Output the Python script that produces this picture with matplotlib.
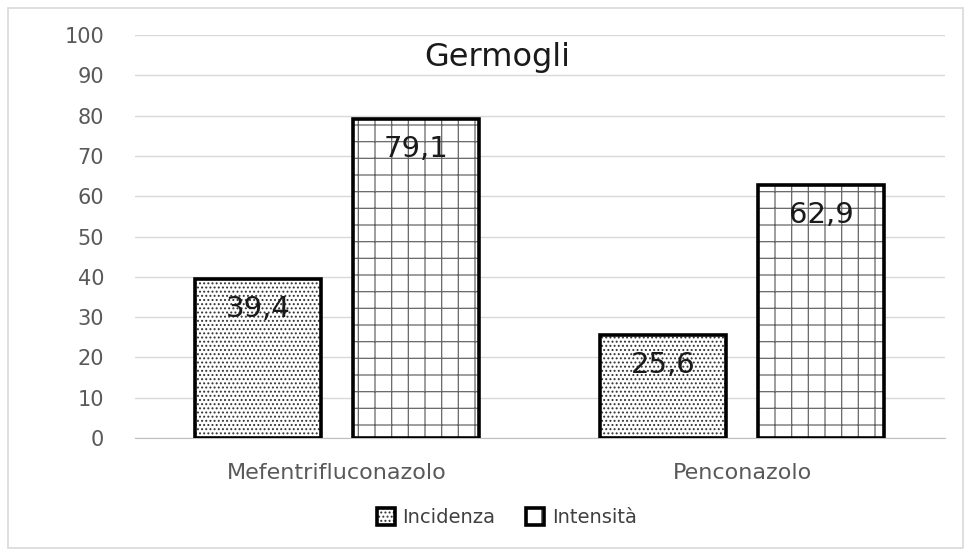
import numpy as np
import matplotlib.pyplot as plt
from matplotlib.patches import Rectangle

categories = ['Mefentrifluconazolo', 'Penconazolo']
incidenza = [39.4, 25.6]
intensita = [79.1, 62.9]
series_names = ['Incidenza', 'Intensità']

plt.rcParams['font.family'] = ['DejaVu Sans']
plt.rcParams['hatch.linewidth'] = 0.9

fig = plt.figure(figsize=(9.69, 5.52), dpi=100)
fig.patches.append(Rectangle((8 / 969, 4 / 552), 955 / 969, 540 / 552,
                             transform=fig.transFigure, fill=False,
                             edgecolor='#d9d9d9', linewidth=1.2))
ax = fig.add_axes([0.139, 0.2065, 0.836, 0.730])

x = np.arange(len(categories))
w = 0.31
off = 0.195

# hatch fill (grey-ish so it reads like dotted patterns), then black outline on top
h1 = ax.bar(x - off, incidenza, w, color='white', edgecolor='#333333',
            linewidth=0, hatch='....', zorder=3)
h2 = ax.bar(x + off, intensita, w, color='white', edgecolor='#666666',
            linewidth=0, hatch='+', zorder=3)
o1 = ax.bar(x - off, incidenza, w, fill=False, edgecolor='black',
            linewidth=2.6, zorder=4)
o2 = ax.bar(x + off, intensita, w, fill=False, edgecolor='black',
            linewidth=2.6, zorder=4)

for bars in (o1, o2):
    for r in bars:
        v = r.get_height()
        ax.text(r.get_x() + r.get_width() / 2, v - 7.5, f'{v:.1f}'.replace('.', ','),
                ha='center', va='center', fontsize=21, color='#1a1a1a', zorder=5)

ax.set_xlim(-0.5, 1.5)
ax.set_ylim(0, 100)
ax.set_yticks(range(0, 101, 10))
ax.set_xticks(x)
ax.set_xticklabels(categories)
ax.tick_params(axis='both', length=0, labelsize=15, colors='#595959')
ax.tick_params(axis='y', pad=22)
ax.tick_params(axis='x', pad=18, labelsize=16)
ax.grid(axis='y', color='#d9d9d9', linewidth=1, zorder=0)
for s in ['top', 'right', 'left']:
    ax.spines[s].set_visible(False)
ax.spines['bottom'].set_color('#bfbfbf')
ax.spines['bottom'].set_zorder(2)

ax.text(0.447, 0.945, 'Germogli', transform=ax.transAxes, ha='center', va='center',
        fontsize=23, color='#1a1a1a')

leg = fig.legend(handles=[(h1[0], o1[0]), (h2[0], o2[0])], labels=series_names,
                 loc='center', bbox_to_anchor=(0.523, 0.062),
                 ncol=2, frameon=False, fontsize=14, handlelength=0.9,
                 handleheight=0.9, handletextpad=0.4, columnspacing=1.6)
for t in leg.get_texts():
    t.set_color('#404040')

fig.savefig('out.png', dpi=100)
